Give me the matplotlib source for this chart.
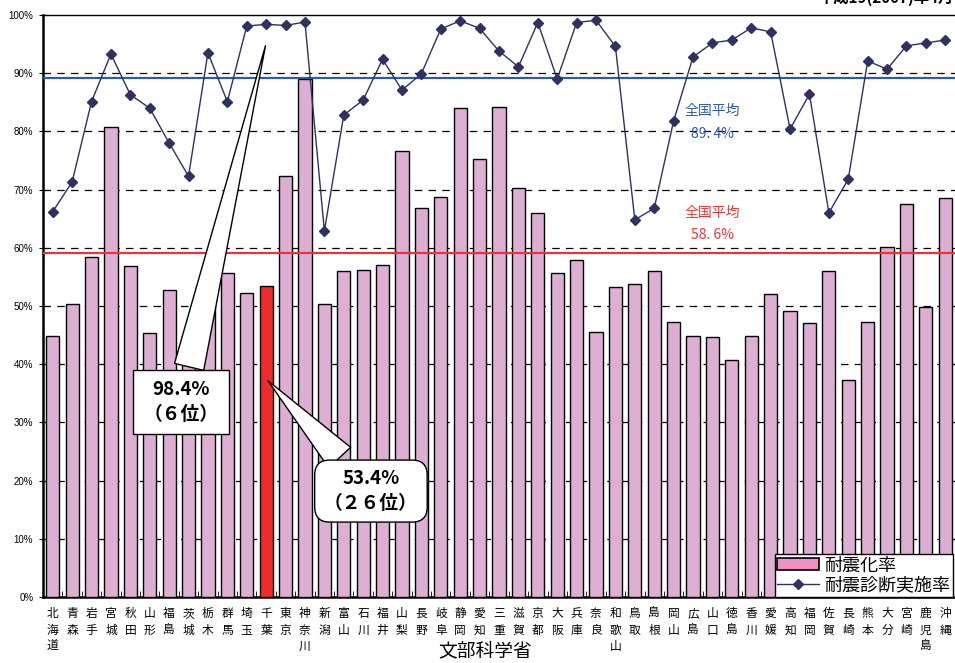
import numpy as np
import matplotlib.pyplot as plt
from matplotlib.patches import Patch
from matplotlib.lines import Line2D

plt.rcParams['font.family'] = ['Noto Sans CJK JP', 'DejaVu Sans']

# 都道府県
prefs = ["北海道", "青森", "岩手", "宮城", "秋田", "山形", "福島", "茨城", "栃木", "群馬",
         "埼玉", "千葉", "東京", "神奈川", "新潟", "富山", "石川", "福井", "山梨", "長野",
         "岐阜", "静岡", "愛知", "三重", "滋賀", "京都", "大阪", "兵庫", "奈良", "和歌山",
         "鳥取", "島根", "岡山", "広島", "山口", "徳島", "香川", "愛媛", "高知", "福岡",
         "佐賀", "長崎", "熊本", "大分", "宮崎", "鹿児島", "沖縄"]

# 耐震化率 (%)
taishin = [44.8, 50.3, 58.5, 80.8, 56.8, 45.3, 52.8, 44.8, 52.1, 55.7,
           52.3, 53.4, 72.4, 89.0, 50.3, 56.0, 56.1, 57.0, 76.6, 66.9,
           68.8, 84.0, 75.2, 84.2, 70.3, 66.0, 55.7, 57.9, 45.6, 53.2,
           53.8, 56.0, 47.3, 44.8, 44.6, 40.8, 44.9, 52.0, 49.2, 47.0,
           56.0, 37.2, 47.3, 60.2, 67.6, 49.9, 68.6]

# 耐震診断実施率 (%)
shindan = [66.2, 71.3, 85.1, 93.3, 86.3, 84.0, 78.0, 72.3, 93.5, 85.1,
           98.1, 98.4, 98.2, 98.8, 62.9, 82.8, 85.4, 92.4, 87.1, 89.9,
           97.6, 99.0, 97.7, 93.8, 91.1, 98.7, 89.0, 98.7, 99.1, 94.6,
           64.8, 66.8, 81.8, 92.8, 95.2, 95.7, 97.8, 97.1, 80.4, 86.4,
           66.0, 71.8, 92.1, 90.7, 94.7, 95.2, 95.7]

avg_shindan = 89.2   # 全国平均 89.4%
avg_taishin = 59.1   # 全国平均 58.6%
highlight = "千葉"

x = np.arange(len(prefs))
colors = ["#EE2C2C" if p == highlight else "#DCAFD3" for p in prefs]

fig = plt.figure(figsize=(9.55, 6.63), dpi=100)
ax = fig.add_axes([43/955, 1 - 597/663, 912/955, 582/663])

ax.bar(x, taishin, width=0.68, color=colors, edgecolor="black", linewidth=1.0, zorder=3)
ax.plot(x, shindan, "-D", color="#2E3162", lw=1.0, ms=5.5, zorder=5)

for v in range(10, 100, 10):
    ax.axhline(v, color="black", lw=0.9, ls=(0, (6, 5)), zorder=1)
ax.axhline(avg_shindan, color="#2F5AA6", lw=1.6, zorder=4)
ax.axhline(avg_taishin, color="#EE3333", lw=1.6, zorder=4)

ax.text(34.0, 83.5, "全国平均", color="#2F5AA6", fontsize=10, ha="center", va="center")
ax.text(34.0, 79.5, "89. 4%", color="#2F5AA6", fontsize=10, ha="center", va="center")
ax.text(34.0, 66.0, "全国平均", color="#EE3333", fontsize=10, ha="center", va="center")
ax.text(34.0, 62.2, "58. 6%", color="#EE3333", fontsize=10, ha="center", va="center")

# callouts
i = prefs.index(highlight)
ax.annotate("98.4%\n（６位）", xy=(i, 95.2), xytext=(6.6, 33.5),
            fontsize=13.5, fontweight="bold", ha="center", va="center", linespacing=1.35,
            bbox=dict(boxstyle="square,pad=0.55", fc="white", ec="black", lw=1.0),
            arrowprops=dict(arrowstyle="wedge,tail_width=1.6,shrink_factor=0.5",
                            fc="white", ec="black", lw=1.0), zorder=6)
ax.annotate("53.4%\n（２６位）", xy=(i, 37.5), xytext=(16.4, 18.2),
            fontsize=13.5, fontweight="bold", ha="center", va="center", linespacing=1.35,
            bbox=dict(boxstyle="round,pad=0.5,rounding_size=0.8", fc="white", ec="black", lw=1.0),
            arrowprops=dict(arrowstyle="wedge,tail_width=1.6,shrink_factor=0.5",
                            fc="white", ec="black", lw=1.0), zorder=6)

ax.set_xlim(-0.5, len(prefs) - 0.5)
ax.set_ylim(0, 100)
ax.set_yticks(range(0, 101, 10))
ax.set_yticklabels([f"{v}%" for v in range(0, 101, 10)], fontsize=7, family="Liberation Sans")
ax.set_xticks(x)
ax.set_xticklabels(["\n".join(p) for p in prefs], fontsize=8.5, va="top", linespacing=1.38)
ax.set_xticks(np.arange(-0.5, len(prefs), 1), minor=True)
ax.tick_params(axis="x", which="major", length=0, pad=7)
ax.tick_params(axis="x", which="minor", direction="in", length=4)
ax.tick_params(axis="y", direction="inout", length=6, pad=4)

ax.spines["left"].set_linewidth(1.8)
ax.spines["bottom"].set_linewidth(1.8)
ax.spines["top"].set_linewidth(1.0)
ax.spines["right"].set_visible(False)

handles = [Patch(fc="#F090C0", ec="black", lw=1.2),
           Line2D([], [], color="#2E3162", marker="D", ms=5.5, lw=1.0)]
leg = ax.legend(handles, ["耐震化率", "耐震診断実施率"], loc="lower right",
                bbox_to_anchor=(953/955, 1 - 597/663), bbox_transform=fig.transFigure,
                fontsize=13, frameon=True, fancybox=False, framealpha=1,
                borderpad=0.15, labelspacing=0.1, handlelength=2.3, handletextpad=0.3,
                borderaxespad=0)
leg.get_frame().set_edgecolor("black")
leg.get_frame().set_linewidth(1.0)
leg.set_zorder(7)

fig.text(485/955, 1 - 651/663, "文部科学省", fontsize=13.5, ha="center", va="center")
fig.text(0.998, 1 - 6/663, "平成19(2007)年4月", fontsize=11, fontweight="bold",
         ha="right", va="bottom")

fig.savefig("out.png", dpi=100)
